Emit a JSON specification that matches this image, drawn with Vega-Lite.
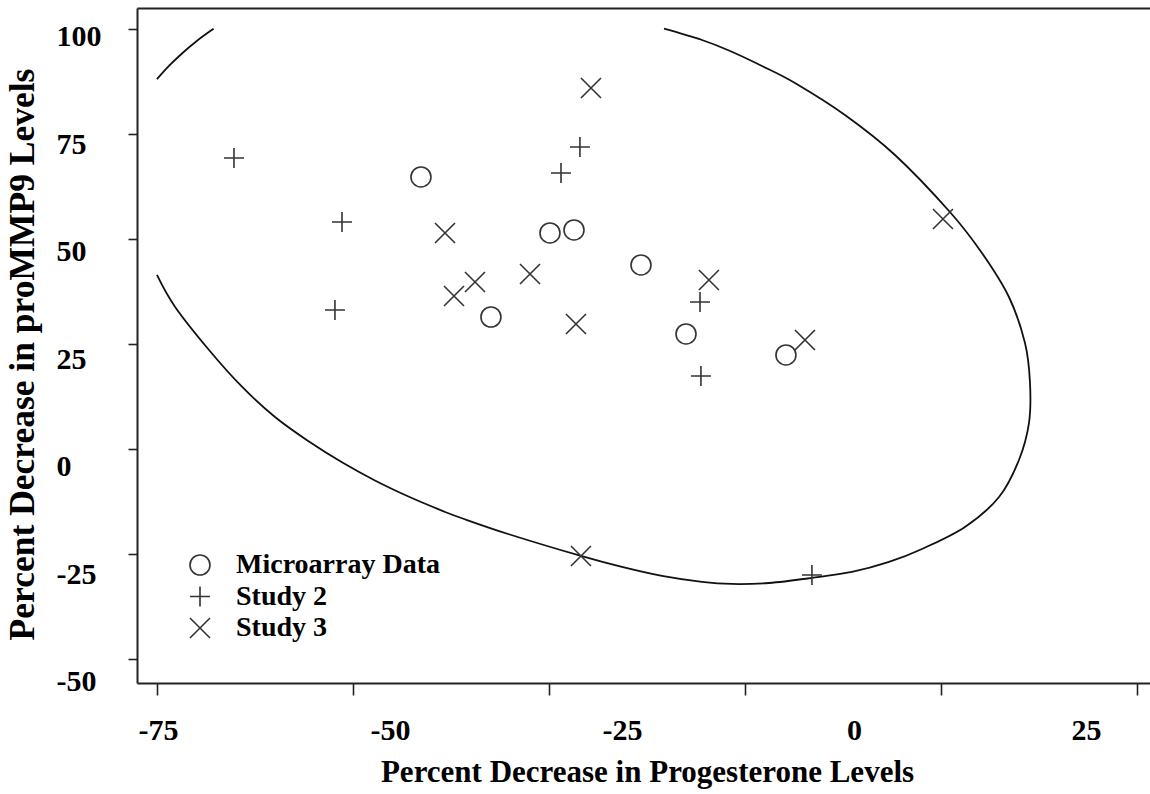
{
  "$schema": "https://vega.github.io/schema/vega-lite/v6.json",
  "autosize": {"type": "none"},
  "padding": {"left": 137, "top": 8, "right": 0, "bottom": 111},
  "width": 1013,
  "height": 675,
  "background": "white",
  "config": {"view": {"stroke": null}, "axis": {"grid": false}},
  "datasets": {
    "points": [
      {"group": "Microarray Data", "x": -46.66, "y": 67.44},
      {"group": "Microarray Data", "x": -32.76, "y": 54.42},
      {"group": "Microarray Data", "x": -30.17, "y": 55.12},
      {"group": "Microarray Data", "x": -22.95, "y": 46.98},
      {"group": "Microarray Data", "x": -39.12, "y": 34.88},
      {"group": "Microarray Data", "x": -18.10, "y": 30.93},
      {"group": "Microarray Data", "x": -7.33, "y": 26.05},
      {"group": "Study 2", "x": -66.81, "y": 71.86},
      {"group": "Study 2", "x": -55.17, "y": 56.98},
      {"group": "Study 2", "x": -55.93, "y": 36.51},
      {"group": "Study 2", "x": -31.57, "y": 68.37},
      {"group": "Study 2", "x": -29.53, "y": 74.42},
      {"group": "Study 2", "x": -16.59, "y": 38.37},
      {"group": "Study 2", "x": -16.49, "y": 21.16},
      {"group": "Study 2", "x": -4.53, "y": -25.12},
      {"group": "Study 3", "x": -28.34, "y": 88.14},
      {"group": "Study 3", "x": -44.07, "y": 54.42},
      {"group": "Study 3", "x": -34.91, "y": 44.88},
      {"group": "Study 3", "x": -40.84, "y": 43.02},
      {"group": "Study 3", "x": -43.10, "y": 39.77},
      {"group": "Study 3", "x": -29.96, "y": 33.26},
      {"group": "Study 3", "x": -15.63, "y": 43.49},
      {"group": "Study 3", "x": -5.28, "y": 29.53},
      {"group": "Study 3", "x": 9.59, "y": 57.67},
      {"group": "Study 3", "x": -29.42, "y": -20.70}
    ],
    "ellipseMain": [
      {"i": 1, "x": -20.47, "y": 101.93},
      {"i": 2, "x": -16.38, "y": 99.30},
      {"i": 3, "x": -13.47, "y": 96.86},
      {"i": 4, "x": -9.91, "y": 93.26},
      {"i": 5, "x": -6.36, "y": 89.30},
      {"i": 6, "x": -0.97, "y": 81.86},
      {"i": 7, "x": 4.42, "y": 72.56},
      {"i": 8, "x": 10.34, "y": 59.30},
      {"i": 9, "x": 13.79, "y": 49.77},
      {"i": 10, "x": 16.70, "y": 39.53},
      {"i": 11, "x": 18.43, "y": 28.84},
      {"i": 12, "x": 18.97, "y": 19.53},
      {"i": 13, "x": 18.86, "y": 10.23},
      {"i": 14, "x": 17.78, "y": 1.63},
      {"i": 15, "x": 15.63, "y": -6.98},
      {"i": 16, "x": 11.96, "y": -13.95},
      {"i": 17, "x": 7.33, "y": -19.07},
      {"i": 18, "x": 3.77, "y": -22.09},
      {"i": 19, "x": -0.22, "y": -24.42},
      {"i": 20, "x": -4.53, "y": -25.81},
      {"i": 21, "x": -9.16, "y": -26.98},
      {"i": 22, "x": -13.15, "y": -27.21},
      {"i": 23, "x": -16.38, "y": -26.74},
      {"i": 24, "x": -20.69, "y": -25.35},
      {"i": 25, "x": -25.00, "y": -23.26},
      {"i": 26, "x": -29.42, "y": -20.70},
      {"i": 27, "x": -37.18, "y": -15.65},
      {"i": 28, "x": -42.24, "y": -11.93},
      {"i": 29, "x": -44.40, "y": -10.16},
      {"i": 30, "x": -47.95, "y": -6.93},
      {"i": 31, "x": -51.62, "y": -3.14},
      {"i": 32, "x": -55.17, "y": 1.09},
      {"i": 33, "x": -58.73, "y": 5.93},
      {"i": 34, "x": -62.39, "y": 11.63},
      {"i": 35, "x": -65.95, "y": 18.67},
      {"i": 36, "x": -69.50, "y": 27.21},
      {"i": 37, "x": -73.17, "y": 37.28},
      {"i": 38, "x": -75.11, "y": 44.65}
    ],
    "ellipseCorner": [
      {"i": 1, "x": -75.11, "y": 90.2},
      {"i": 2, "x": -73.85, "y": 93.3},
      {"i": 3, "x": -72.41, "y": 96.2},
      {"i": 4, "x": -70.98, "y": 98.9},
      {"i": 5, "x": -69.0, "y": 101.93}
    ]
  },
  "layer": [
    {
      "data": {"name": "ellipseMain"},
      "mark": {"type": "line", "interpolate": "cardinal", "color": "#111", "strokeWidth": 1.8},
      "encoding": {
        "x": {
          "field": "x", "type": "quantitative",
          "scale": {"domain": [-77.26, 31.9], "nice": false, "zero": false},
          "axis": {
            "orient": "bottom", "values": [-75.11, -54.0, -32.87, -11.75, 9.38, 30.5],
            "labels": false, "ticks": true, "tickSize": 12, "tickColor": "#222", "tickWidth": 1.6,
            "domain": true, "domainColor": "#222", "domainWidth": 2, "title": null, "grid": false
          }
        },
        "y": {
          "field": "y", "type": "quantitative",
          "scale": {"domain": [-50.24, 106.74], "nice": false, "zero": false},
          "axis": {
            "orient": "left", "values": [101.93, 77.5, 53.07, 28.64, 4.21, -20.22, -44.65],
            "labels": false, "ticks": true, "tickSize": 9, "tickColor": "#222", "tickWidth": 1.6,
            "domain": true, "domainColor": "#222", "domainWidth": 2, "title": null, "grid": false
          }
        },
        "order": {"field": "i", "type": "quantitative"}
      }
    },
    {
      "data": {"name": "ellipseCorner"},
      "mark": {"type": "line", "interpolate": "basis", "color": "#111", "strokeWidth": 1.8},
      "encoding": {
        "x": {
          "field": "x", "type": "quantitative",
          "axis": {
            "orient": "top", "labels": false, "ticks": false, "domain": true,
            "domainColor": "#222", "domainWidth": 2, "title": null, "grid": false
          }
        },
        "y": {"field": "y", "type": "quantitative", "axis": null},
        "order": {"field": "i", "type": "quantitative"}
      }
    },
    {
      "data": {"name": "points"},
      "mark": {"type": "point", "filled": false, "strokeWidth": 1.6, "size": 400, "opacity": 1, "color": "#333"},
      "encoding": {
        "x": {
          "field": "x", "type": "quantitative",
          "axis": {
            "orient": "bottom", "values": [-75, -50, -25, 0, 25],
            "labelExpr": "toString(datum.value)",
            "ticks": false, "tickSize": 0, "domain": false, "grid": false,
            "labelPadding": 47, "labelBaseline": "middle", "labelFlush": false, "labelOverlap": false,
            "labelFont": "Liberation Serif", "labelFontSize": 30, "labelFontWeight": "bold", "labelColor": "black",
            "title": "Percent Decrease in Progesterone Levels",
            "titleFont": "Liberation Serif", "titleFontSize": 31, "titleFontWeight": "bold", "titleColor": "black",
            "titleX": 510, "titleY": 89, "titleAlign": "center", "titleBaseline": "middle"
          }
        },
        "y": {
          "field": "y", "type": "quantitative",
          "axis": {
            "orient": "left", "values": [100, 75, 50, 25, 0, -25, -50],
            "labelExpr": "toString(datum.value)",
            "ticks": false, "tickSize": 0, "domain": false, "grid": false,
            "labelPadding": 81, "labelAlign": "left", "labelBaseline": "middle", "labelFlush": false, "labelOverlap": false,
            "labelFont": "Liberation Serif", "labelFontSize": 30, "labelFontWeight": "bold", "labelColor": "black",
            "title": "Percent Decrease in proMMP9 Levels",
            "titleFont": "Liberation Serif", "titleFontSize": 35.5, "titleFontWeight": "bold", "titleColor": "black",
            "titleX": -115, "titleY": 346, "titleAngle": 270, "titleAlign": "center", "titleBaseline": "middle"
          }
        },
        "shape": {
          "field": "group", "type": "nominal",
          "scale": {
            "domain": ["Microarray Data", "Study 2", "Study 3"],
            "range": ["circle", "M-1,0H1M0,-1V1", "M-1,-1L1,1M-1,1L1,-1"]
          },
          "legend": {
            "orient": "none", "legendX": 49, "legendY": 543, "title": null, "padding": 0,
            "labelFont": "Liberation Serif", "labelFontSize": 28, "labelFontWeight": "bold", "labelColor": "black",
            "labelLimit": 0, "labelOffset": 22, "rowPadding": 3.5, "symbolSize": 400, "symbolStrokeWidth": 1.6,
            "symbolStrokeColor": "#333", "symbolFillColor": "transparent", "fillColor": null, "strokeColor": null
          }
        }
      }
    }
  ],
  "resolve": {"axis": {"x": "independent", "y": "independent"}}
}
